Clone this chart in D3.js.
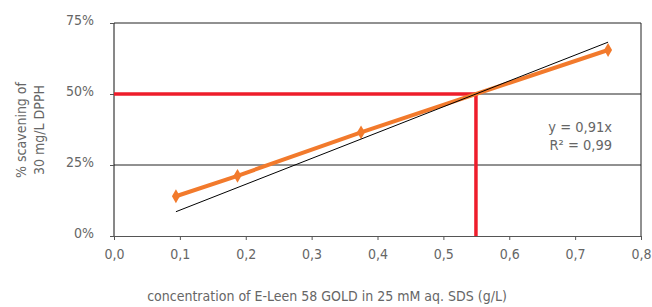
<!DOCTYPE html>
<html>
<head>
<meta charset="utf-8">
<script src="https://cdn.jsdelivr.net/npm/d3@7"></script>
<style>
  body { margin: 0; background: #fff; }
  text { font-family: "Liberation Sans Narrow", "DejaVu Sans Condensed", "Roboto", sans-serif; fill: #666; }
</style>
</head>
<body>
<svg id="chart" width="652" height="307"></svg>
<script>
// measured points
let concentrations = [0.094, 0.1875, 0.375, 0.75];
let scavenging = [14, 21.2, 36.5, 65.5];
let xTicks = [0, 0.1, 0.2, 0.3, 0.4, 0.5, 0.6, 0.7, 0.8];
let yTicks = [0, 25, 50, 75];
let slope = 91;          // y = 0,91x (in %)
let target = 50;         // 50% scavenging
let equationLines = ["y = 0,91x", "R² = 0,99"];

let margins = { top: 23, right: 11, bottom: 71, left: 114 };
let width = 652 - margins.left - margins.right;
let height = 307 - margins.top - margins.bottom;

let svg = d3.select('#chart');
let g = svg.append('g').attr('transform', `translate(${margins.left} ${margins.top})`);

let x = d3.scaleLinear().domain([0, 0.8]).range([0, width]);
let y = d3.scaleLinear().domain([0, 75]).range([height, 0]);

// gridlines
g.selectAll('.grid')
    .data(yTicks.filter(d => d > 0))
    .enter().append('line')
    .attr('x1', 0).attr('x2', width)
    .attr('y1', d => y(d)).attr('y2', d => y(d))
    .attr('stroke', '#222').attr('stroke-width', 1);

// right border
g.append('line')
    .attr('x1', width).attr('x2', width)
    .attr('y1', 0).attr('y2', height)
    .attr('stroke', '#222');

// x axis
let xAxis = g.append('g')
    .attr('transform', `translate(0 ${height})`)
    .call(d3.axisBottom(x).tickValues(xTicks).tickSize(4).tickPadding(9)
        .tickFormat(d => d3.format('.1f')(d).replace('.', ',')));
xAxis.select('.domain').attr('stroke', '#555');
xAxis.selectAll('line').attr('stroke', '#555');
xAxis.selectAll('text').attr('font-size', 14).attr('fill', '#666');

// y axis
let yAxis = g.append('g')
    .call(d3.axisLeft(y).tickValues(yTicks).tickSize(4).tickPadding(16)
        .tickFormat(d => d + '%'));
yAxis.select('.domain').attr('stroke', '#111').attr('d', `M0,0V${height}`);
yAxis.selectAll('line').attr('stroke', '#555');
yAxis.selectAll('text').attr('font-size', 14).attr('fill', '#666').attr('dy', '0.1em');

// red guide lines at 50%
let xTarget = target / slope;
g.append('line')
    .attr('x1', 0).attr('x2', x(xTarget))
    .attr('y1', y(target)).attr('y2', y(target))
    .attr('stroke', '#ee1d2b').attr('stroke-width', 3.5);
g.append('line')
    .attr('x1', x(xTarget)).attr('x2', x(xTarget))
    .attr('y1', y(target) - 1.75).attr('y2', height)
    .attr('stroke', '#ee1d2b').attr('stroke-width', 3.5);

// data line
let points = concentrations.map((c, i) => ({ c: c, v: scavenging[i] }));
g.append('path')
    .datum(points)
    .attr('fill', 'none')
    .attr('stroke', '#f27a2c')
    .attr('stroke-width', 4)
    .attr('d', d3.line().x(d => x(d.c)).y(d => y(d.v)));

g.selectAll('.marker')
    .data(points)
    .enter().append('path')
    .attr('transform', d => `translate(${x(d.c)} ${y(d.v)})`)
    .attr('d', d3.symbol().type(d3.symbolDiamond).size(55))
    .attr('fill', '#f27a2c');

// linear trend line
let xMin = d3.min(concentrations), xMax = d3.max(concentrations);
g.append('line')
    .attr('x1', x(xMin)).attr('y1', y(slope * xMin))
    .attr('x2', x(xMax)).attr('y2', y(slope * xMax))
    .attr('stroke', '#000').attr('stroke-width', 1);

// equation
g.append('text')
    .attr('x', 498).attr('y', 109)
    .attr('text-anchor', 'end')
    .attr('font-size', 14.5)
    .selectAll('tspan')
    .data(equationLines)
    .enter().append('tspan')
    .attr('x', 498)
    .attr('dy', (d, i) => i === 0 ? 0 : 18)
    .text(d => d);

// axis titles
svg.append('text')
    .attr('x', 327).attr('y', 301)
    .attr('text-anchor', 'middle')
    .attr('font-size', 14)
    .text('concentration of E-Leen 58 GOLD in 25 mM aq. SDS (g/L)');

let yTitle = svg.append('text')
    .attr('transform', 'translate(26 130) rotate(-90)')
    .attr('text-anchor', 'middle')
    .attr('font-size', 14);
yTitle.append('tspan').attr('x', 0).attr('dy', 0).text('% scavening of');
yTitle.append('tspan').attr('x', 0).attr('dy', 18).text('30 mg/L DPPH');
</script>
</body>
</html>
